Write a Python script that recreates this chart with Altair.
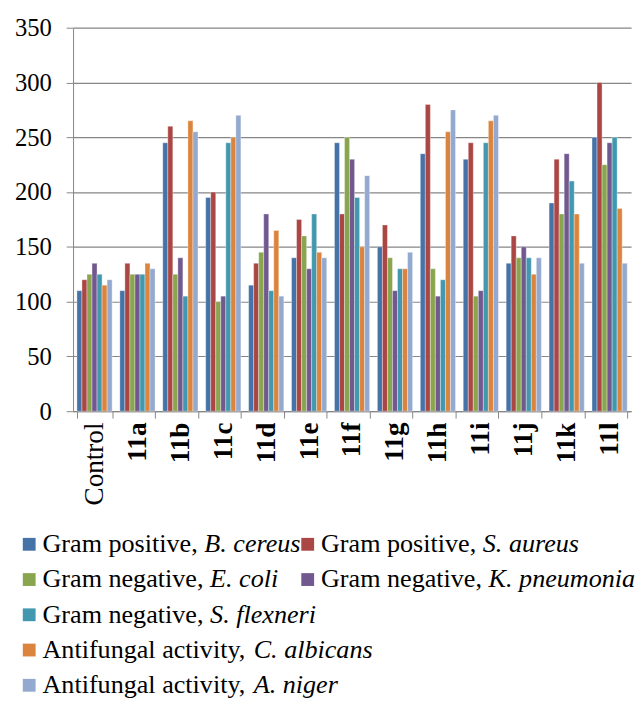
import altair as alt
import pandas as pd

FONT = "Liberation Serif"

categories = ["Control", "11a", "11b", "11c", "11d", "11e", "11f",
              "11g", "11h", "11i", "11j", "11k", "11l"]

series = [
    "Gram positive, B. cereus",
    "Gram positive, S. aureus",
    "Gram negative, E. coli",
    "Gram negative, K. pneumonia",
    "Gram negative, S. flexneri",
    "Antifungal activity, C. albicans",
    "Antifungal activity, A. niger",
]

b_cereus    = [110, 110, 245, 195, 115, 140, 245, 150, 235, 230, 135, 190, 250]
s_aureus    = [120, 135, 260, 200, 135, 175, 180, 170, 280, 245, 160, 230, 300]
e_coli      = [125, 125, 125, 100, 145, 160, 250, 140, 130, 105, 140, 180, 225]
k_pneumonia = [135, 125, 140, 105, 180, 130, 230, 110, 105, 110, 150, 235, 245]
s_flexneri  = [125, 125, 105, 245, 110, 180, 195, 130, 120, 245, 140, 210, 250]
c_albicans  = [115, 135, 265, 250, 165, 145, 150, 130, 255, 265, 125, 180, 185]
a_niger     = [120, 130, 255, 270, 105, 140, 215, 145, 275, 270, 140, 135, 135]

values = [b_cereus, s_aureus, e_coli, k_pneumonia, s_flexneri, c_albicans, a_niger]

colors = ["#4572A7", "#AA4643", "#89A54E", "#71588F", "#4198AF", "#DB843D", "#93A9CF"]

y_ticks = [0, 50, 100, 150, 200, 250, 300, 350]

legend_prefix = ["Gram positive,", "Gram positive,", "Gram negative,", "Gram negative,",
                 "Gram negative,", "Antifungal activity,", "Antifungal activity,"]
legend_species = ["B. cereus", "S. aureus", "E. coli", "K. pneumonia",
                  "S. flexneri", "C. albicans", "A. niger"]
legend_row = [0, 0, 1, 1, 2, 3, 4]
legend_col = [0, 1, 0, 1, 0, 0, 0]

rows = []
for s, vals in zip(series, values):
    for c, v in zip(categories, vals):
        rows.append({"category": c, "series": s, "value": v})
df = pd.DataFrame(rows)

color_scale = alt.Scale(domain=series, range=colors)
GRID = "#868686"

bars = alt.Chart(df).mark_bar(stroke="white", strokeWidth=0.5, strokeOpacity=0.7).encode(
    x=alt.X("category:N", sort=categories,
            scale=alt.Scale(paddingInner=0.18, paddingOuter=0.09),
            axis=alt.Axis(title=None, labelAngle=270, labelFont=FONT, labelFontSize=27.5,
                          labelFontWeight={"condition": {"test": "datum.value === 'Control'", "value": "normal"}, "value": "bold"},
                          labelColor="black", tickBand="extent", domainColor=GRID,
                          tickColor=GRID, tickSize=7, labelPadding=4, grid=False)),
    xOffset=alt.XOffset("series:N", sort=series),
    y=alt.Y("value:Q", scale=alt.Scale(domain=[0, 350]),
            axis=alt.Axis(title=None, values=y_ticks, grid=True, gridColor=GRID,
                          gridWidth=1.2, domainColor=GRID, tickColor=GRID, tickSize=7,
                          labelPadding=15, labelFont=FONT, labelFontSize=25,
                          labelColor="black")),
    color=alt.Color("series:N", scale=color_scale, legend=None),
).properties(width=566, height=389)

leg = pd.DataFrame({"series": series, "prefix": legend_prefix, "species": legend_species,
                    "row": legend_row, "col": legend_col})

base = alt.Chart(leg).encode(
    x=alt.X("col:Q", scale=alt.Scale(domain=[0, 1], range=[-44.5, 238]), axis=None),
    y=alt.Y("row:Q", scale=alt.Scale(domain=[0, 4], range=[0, 143]), axis=None),
)
sq = base.mark_square(size=169, opacity=1).encode(
    color=alt.Color("series:N", scale=color_scale, legend=None))
pre = base.mark_text(align="left", baseline="middle", dx=13.5, font=FONT,
                     fontSize=26.5, color="black").encode(text="prefix:N")

def species_layer(prefix, dx):
    return base.transform_filter(alt.datum.prefix == prefix).mark_text(
        align="left", baseline="middle", dx=dx, font=FONT, fontSize=26.5,
        fontStyle="italic", color="black").encode(text="species:N")

legend = alt.layer(
    sq, pre,
    species_layer("Gram positive,", 177.6),
    species_layer("Gram negative,", 183.5),
    species_layer("Antifungal activity,", 227.7),
).properties(width=566, height=143)

chart = alt.vconcat(bars, legend, spacing=26).properties(
    padding={"left": 6, "top": 3, "right": 0, "bottom": 0}
).configure_view(stroke=None)

chart.save("out.html", embed_options={"renderer": "svg", "actions": False})
